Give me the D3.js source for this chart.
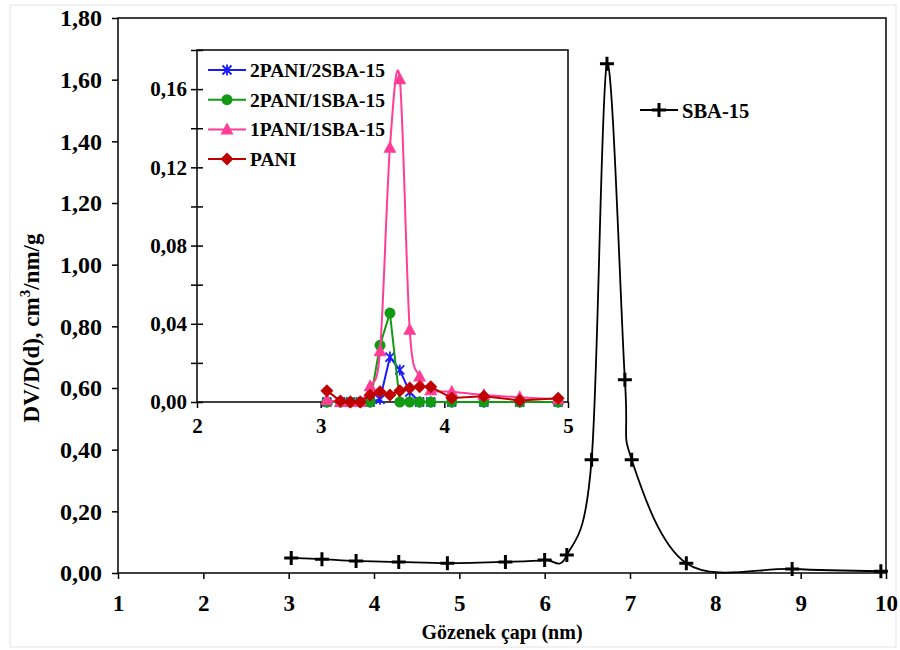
<!DOCTYPE html>
<html>
<head>
<meta charset="utf-8">
<script src="https://cdn.jsdelivr.net/npm/d3@7"></script>
<style>
  body { margin: 0; background: #fff; }
  svg text { font-family: "Liberation Serif", "Times New Roman", serif; font-weight: bold; }
</style>
</head>
<body>
<div id="chart"></div>
<script>
// main chart: SBA-15
const sbaX = [3.03, 3.39, 3.79, 4.29, 4.86, 5.54, 6.00, 6.26, 6.55, 6.73, 6.94, 7.02, 7.66, 8.90, 9.94];
const sbaY = [0.049, 0.045, 0.039, 0.036, 0.032, 0.036, 0.042, 0.058, 0.367, 1.652, 0.627, 0.367, 0.032, 0.013, 0.006];

// inset chart
const insetX = [3.05, 3.16, 3.24, 3.32, 3.40, 3.48, 3.56, 3.64, 3.72, 3.80, 3.89, 4.06, 4.32, 4.61, 4.92];
const pani2sba2 = [0, 0, 0, 0, 0, 0.0014, 0.023, 0.0164, 0.005, 0, 0, 0, 0, 0, 0];
const pani2sba1 = [0, 0, 0, 0, 0, 0.029, 0.0455, 0, 0, 0, 0, 0, 0, 0, 0];
const pani1sba1 = [0.001, 0, 0, 0, 0.008, 0.026, 0.130, 0.165, 0.037, 0.013, 0.006, 0.0053, 0.0036, 0.0024, 0.0014];
const pani = [0.0058, 0.0005, 0, 0, 0.0036, 0.0053, 0.0036, 0.0058, 0.0072, 0.0078, 0.0078, 0.002, 0.003, 0.0008, 0.0019];

const mainXTicks = [1, 2, 3, 4, 5, 6, 7, 8, 9, 10];
const mainYTicks = [0, 0.2, 0.4, 0.6, 0.8, 1.0, 1.2, 1.4, 1.6, 1.8];
const insetXTicks = [2, 3, 4, 5];
const insetYTicks = [0, 0.02, 0.04, 0.06, 0.08, 0.10, 0.12, 0.14, 0.16, 0.18];

const fmt = d => d.toFixed(2).replace(".", ",");

const width = 900, height = 650;
const svg = d3.select("#chart").append("svg")
    .attr("width", width)
    .attr("height", height);

svg.append("rect")
    .attr("x", 10).attr("y", 5)
    .attr("width", 886).attr("height", 642)
    .attr("fill", "none")
    .attr("stroke", "#e4e4e4");

// ---------- main plot ----------
const m = {left: 118, right: 886, top: 18, bottom: 573};

const x = d3.scaleLinear().domain([1, 10]).range([m.left, m.right]);
const y = d3.scaleLinear().domain([0, 1.8]).range([m.bottom, m.top]);

svg.append("g")
    .attr("transform", "translate(0," + m.bottom + ")")
    .call(d3.axisBottom(x).tickValues(mainXTicks).tickSize(6).tickFormat(d3.format("d")))
    .call(g => g.select(".domain").remove())
    .call(g => g.selectAll("line").attr("stroke", "#000").attr("stroke-width", 1.5))
    .call(g => g.selectAll("text").attr("font-size", 23).attr("y", 38).attr("dy", 0).attr("fill", "#000"));

svg.append("g")
    .attr("transform", "translate(" + m.left + ",0)")
    .call(d3.axisLeft(y).tickValues(mainYTicks).tickSize(6).tickFormat(fmt))
    .call(g => g.select(".domain").remove())
    .call(g => g.selectAll("line").attr("stroke", "#000").attr("stroke-width", 1.5))
    .call(g => g.selectAll("text").attr("font-size", 24).attr("x", -16).attr("fill", "#000"));

svg.append("rect")
    .attr("x", m.left).attr("y", m.top)
    .attr("width", m.right - m.left).attr("height", m.bottom - m.top)
    .attr("fill", "none")
    .attr("stroke", "#000")
    .attr("stroke-width", 1.5);

svg.append("text")
    .attr("x", (m.left + m.right) / 2)
    .attr("y", 639)
    .attr("text-anchor", "middle")
    .attr("font-size", 20)
    .text("Gözenek çapı (nm)");

const yTitle = svg.append("text")
    .attr("transform", "translate(39,328) rotate(-90)")
    .attr("text-anchor", "middle")
    .attr("font-size", 23);
yTitle.append("tspan").text("DV/D(d), cm");
yTitle.append("tspan").attr("font-size", 15).attr("dy", -9).text("3");
yTitle.append("tspan").attr("dy", 9).text("/nm/g");

const sbaData = sbaX.map((d, i) => [d, sbaY[i]]);

svg.append("path")
    .datum(sbaData)
    .attr("fill", "none")
    .attr("stroke", "#000")
    .attr("stroke-width", 1.8)
    .attr("d", d3.line().x(d => x(d[0])).y(d => y(d[1])).curve(d3.curveCardinal.tension(0)));

function plusMarker(g, cx, cy, s) {
    g.append("path")
        .attr("d", `M${cx - s},${cy}H${cx + s}M${cx},${cy - s}V${cy + s}`)
        .attr("stroke", "#000")
        .attr("stroke-width", 3)
        .attr("fill", "none");
}
const sbaG = svg.append("g");
sbaData.forEach(d => plusMarker(sbaG, x(d[0]), y(d[1]), 7));

// SBA-15 legend
svg.append("line")
    .attr("x1", 640).attr("x2", 678).attr("y1", 110).attr("y2", 110)
    .attr("stroke", "#000").attr("stroke-width", 1.8);
plusMarker(svg, 659, 110, 7);
svg.append("text")
    .attr("x", 682).attr("y", 118)
    .attr("font-size", 20.5)
    .text("SBA-15");

// ---------- inset ----------
const ins = {left: 197, right: 568, top: 50, bottom: 402};
const ix = d3.scaleLinear().domain([2, 5]).range([ins.left, ins.right]);
const iy = d3.scaleLinear().domain([0, 0.18]).range([ins.bottom, ins.top]);

svg.append("rect")
    .attr("x", ins.left).attr("y", ins.top)
    .attr("width", ins.right - ins.left).attr("height", ins.bottom - ins.top)
    .attr("fill", "#fff");

svg.append("g")
    .attr("transform", "translate(0," + ins.bottom + ")")
    .call(d3.axisBottom(ix).tickValues(insetXTicks).tickSize(6).tickFormat(d3.format("d")))
    .call(g => g.select(".domain").remove())
    .call(g => g.selectAll("line").attr("stroke", "#000").attr("stroke-width", 1.5))
    .call(g => g.selectAll("text").attr("font-size", 21).attr("y", 31).attr("dy", 0).attr("fill", "#000"));

svg.append("g")
    .attr("transform", "translate(" + ins.left + ",0)")
    .call(d3.axisLeft(iy).tickValues(insetYTicks).tickSize(6)
        .tickFormat(d => (Math.round(d * 100) % 4 === 0 && d < 0.17) ? fmt(d) : ""))
    .call(g => g.select(".domain").remove())
    .call(g => g.selectAll("line").attr("x2", 6).attr("x1", -6).attr("stroke", "#000").attr("stroke-width", 1.5))
    .call(g => g.selectAll("text").attr("font-size", 21).attr("x", -10).attr("fill", "#000"));

svg.append("rect")
    .attr("x", ins.left).attr("y", ins.top)
    .attr("width", ins.right - ins.left).attr("height", ins.bottom - ins.top)
    .attr("fill", "none")
    .attr("stroke", "#000")
    .attr("stroke-width", 1.5);

const series = [
    {name: "2PANI/2SBA-15", values: pani2sba2, color: "#1a1aff", marker: "star", curve: d3.curveLinear},
    {name: "2PANI/1SBA-15", values: pani2sba1, color: "#139a13", marker: "circle", curve: d3.curveLinear},
    {name: "1PANI/1SBA-15", values: pani1sba1, color: "#ff3d96", marker: "triangle", curve: d3.curveCardinal.tension(0)},
    {name: "PANI", values: pani, color: "#c00000", marker: "diamond", curve: d3.curveLinear},
];

function drawMarker(g, type, cx, cy, color) {
    if (type === "circle") {
        g.append("circle").attr("cx", cx).attr("cy", cy).attr("r", 5.5).attr("fill", color);
    } else if (type === "triangle") {
        g.append("path").attr("d", `M${cx},${cy - 7}L${cx + 6.5},${cy + 5}L${cx - 6.5},${cy + 5}Z`).attr("fill", color);
    } else if (type === "diamond") {
        g.append("path").attr("d", `M${cx},${cy - 6.5}L${cx + 6.5},${cy}L${cx},${cy + 6.5}L${cx - 6.5},${cy}Z`).attr("fill", color);
    } else {
        const s = 4.5;
        g.append("path")
            .attr("d", `M${cx - s},${cy - s}L${cx + s},${cy + s}M${cx - s},${cy + s}L${cx + s},${cy - s}M${cx},${cy - s - 1}V${cy + s + 1}`)
            .attr("stroke", color).attr("stroke-width", 1.8).attr("fill", "none");
    }
}

series.forEach((s, k) => {
    const data = insetX.map((d, i) => [d, s.values[i]]);
    const g = svg.append("g");
    g.append("path")
        .datum(data)
        .attr("fill", "none")
        .attr("stroke", s.color)
        .attr("stroke-width", 2)
        .attr("d", d3.line().x(d => ix(d[0])).y(d => iy(d[1])).curve(s.curve));
    data.forEach(d => drawMarker(g, s.marker, ix(d[0]), iy(d[1]), s.color));

    // legend row
    const ly = 70 + k * 29.7;
    svg.append("line")
        .attr("x1", 208).attr("x2", 246).attr("y1", ly).attr("y2", ly)
        .attr("stroke", s.color).attr("stroke-width", 2);
    drawMarker(svg, s.marker, 227, ly, s.color);
    svg.append("text")
        .attr("x", 250).attr("y", ly + 7)
        .attr("font-size", 19.5)
        .text(s.name);
});
</script>
</body>
</html>
